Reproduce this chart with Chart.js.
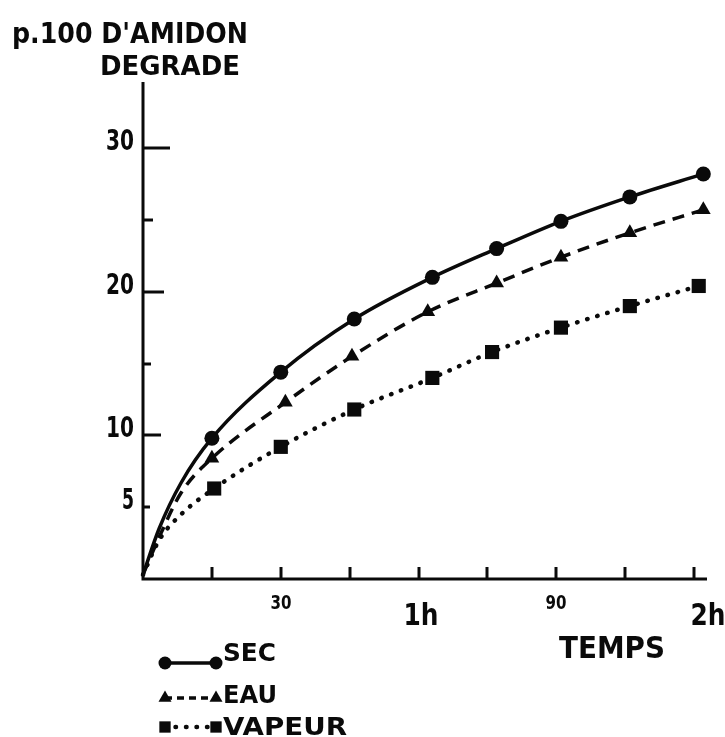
<!DOCTYPE html>
<html>
<head>
<meta charset="utf-8">
<script src="https://cdn.jsdelivr.net/npm/chart.js@4.4.1/dist/chart.umd.min.js"></script>
<style>
  html, body { margin: 0; padding: 0; background: #fff; }
  #wrap { width: 725px; height: 737px; }
</style>
</head>
<body>
<div id="wrap"><canvas id="c" width="725" height="737"></canvas></div>
<script>
// ------- data -------
// les 3 premiers points de chaque série : origine + 2 lectures de la courbe, sans marqueur
const timeSec = [0, 3.5, 8.3, 15, 30, 46, 63, 77, 91, 106, 122];
const valSec  = [0.3, 3.5, 6.7, 9.8, 14.4, 18.1, 21.0, 23.0, 24.9, 26.6, 28.2];
const timeEau = [0, 3.5, 8.3, 15, 31, 45.5, 62, 77, 91, 106, 122];
const valEau  = [0.3, 2.9, 6.0, 8.4, 12.3, 15.5, 18.6, 20.6, 22.4, 24.1, 25.7];
const timeVap = [0, 3.5, 8.3, 15.5, 30, 46, 63, 76, 91, 106, 121];
const valVap  = [0.3, 2.7, 4.5, 6.3, 9.2, 11.8, 14.0, 15.8, 17.5, 19.0, 20.4];
const unmarked = 3;

const seriesNames = ['SEC', 'EAU', 'VAPEUR'];
const yTicks      = [5, 10, 15, 20, 25, 30];
const yTickLabels = ['5', '10', '', '20', '', '30'];
const xTicks      = [15, 30, 45, 60, 75, 90, 105, 120];
const xTickLabels = ['', '30', '', '1h', '', '90', '', '2h'];
const yTitle = ["p.100 D'AMIDON", 'DEGRADE'];
const xTitle = 'TEMPS';

const INK = '#0a0a0a';

// ------- helpers -------
const pts = (xs, ys) => xs.map((x, i) => ({ x, y: ys[i] }));
const radii = (n, r) => Array.from({ length: n }, (_, i) => (i < unmarked ? 0 : r));

// texte gras "condensé" : on écrase horizontalement pour tenir la largeur voulue
function fitText(ctx, txt, x, y, size, width, align) {
  ctx.save();
  ctx.font = `bold ${size}px "DejaVu Sans"`;
  ctx.textAlign = align || 'left';
  ctx.textBaseline = 'alphabetic';
  const w = ctx.measureText(txt).width || 1;
  ctx.translate(x, y);
  ctx.scale(width ? width / w : 1, 1);
  ctx.fillStyle = INK;
  ctx.fillText(txt, 0, 0);
  ctx.restore();
}

function marker(ctx, style, x, y, r) {
  ctx.beginPath();
  if (style === 'circle') {
    ctx.arc(x, y, r, 0, Math.PI * 2);
  } else if (style === 'triangle') {
    ctx.moveTo(x, y - r);
    ctx.lineTo(x + r * 0.866, y + r * 0.5);
    ctx.lineTo(x - r * 0.866, y + r * 0.5);
    ctx.closePath();
  } else {
    ctx.rect(x - r * 0.707, y - r * 0.707, r * 1.414, r * 1.414);
  }
  ctx.fill();
}

// ------- axes, labels, legend (plugin) -------
const yTickLen = { 5: 7, 10: 18, 15: 8, 20: 21, 25: 10, 30: 27 };

const decor = {
  id: 'decor',
  beforeDatasetsDraw(chart) {
    const { ctx, chartArea: a, scales: { x, y } } = chart;
    ctx.save();
    ctx.strokeStyle = INK;
    ctx.fillStyle = INK;
    ctx.lineWidth = 3;

    // axes
    ctx.beginPath();
    ctx.moveTo(a.left, a.top);
    ctx.lineTo(a.left, a.bottom + 1.5);
    ctx.moveTo(a.left - 1.5, a.bottom);
    ctx.lineTo(a.right, a.bottom);
    ctx.stroke();

    // y ticks + labels
    yTicks.forEach((v, i) => {
      const py = Math.round(y.getPixelForValue(v));
      ctx.beginPath();
      ctx.moveTo(a.left, py);
      ctx.lineTo(a.left + (yTickLen[v] || 8), py);
      ctx.stroke();
      const t = yTickLabels[i];
      if (t) fitText(ctx, t, a.left - 9, py + 2, 29, t.length === 1 ? 12 : 28, 'right');
    });

    // x ticks + labels
    xTicks.forEach((v, i) => {
      const px = Math.round(x.getPixelForValue(v));
      ctx.beginPath();
      ctx.moveTo(px, a.bottom);
      ctx.lineTo(px, a.bottom - 12);
      ctx.stroke();
      const t = xTickLabels[i];
      if (!t) return;
      if (t.endsWith('h')) fitText(ctx, t, px + (v === 120 ? 14 : 2), a.bottom + 46, 31, 35, 'center');
      else fitText(ctx, t, px, a.bottom + 30, 19, 21, 'center');
    });

    // titres
    fitText(ctx, yTitle[0], 12, 43, 28, 236);
    fitText(ctx, yTitle[1], 100, 75, 27, 140);
    fitText(ctx, xTitle, 559, 658, 30, 106);
    ctx.restore();
  },
  afterDraw(chart) {
    const { ctx } = chart;
    const rows = [663, 698, 727];
    const textBase = [661, 703, 735];
    const textW = [53, 54, 124];
    const mr = [6.5, 7.5, 8];
    ctx.save();
    chart.data.datasets.forEach((ds, i) => {
      const y0 = rows[i];
      ctx.strokeStyle = INK;
      ctx.fillStyle = INK;
      ctx.lineWidth = ds.borderWidth;
      ctx.lineCap = ds.borderCapStyle || 'butt';
      ctx.setLineDash(i === 1 ? [7, 5] : (ds.borderDash || []));
      ctx.beginPath();
      ctx.moveTo(165, y0);
      ctx.lineTo(216, y0);
      ctx.stroke();
      ctx.setLineDash([]);
      marker(ctx, ds.pointStyle, 165, y0, mr[i]);
      marker(ctx, ds.pointStyle, 216, y0, mr[i]);
      fitText(ctx, seriesNames[i], 223, textBase[i], 25, textW[i]);
    });
    ctx.restore();
  }
};

// ------- chart -------
const common = {
  borderColor: INK,
  backgroundColor: INK,
  pointBorderWidth: 0,
  pointBackgroundColor: INK,
  cubicInterpolationMode: 'monotone',
  clip: false,
  fill: false
};

new Chart(document.getElementById('c'), {
  type: 'line',
  data: {
    datasets: [
      { ...common, label: seriesNames[0], data: pts(timeSec, valSec), borderWidth: 3.5,
        pointStyle: 'circle', pointRadius: radii(valSec.length, 7.5) },
      { ...common, label: seriesNames[1], data: pts(timeEau, valEau), borderWidth: 3.5,
        borderDash: [12, 8], pointStyle: 'triangle', pointRadius: radii(valEau.length, 8.5) },
      { ...common, label: seriesNames[2], data: pts(timeVap, valVap), borderWidth: 4.5,
        borderDash: [0.5, 10], borderCapStyle: 'round', pointStyle: 'rect',
        pointRadius: radii(valVap.length, 10) }
    ]
  },
  options: {
    responsive: false,
    animation: false,
    devicePixelRatio: 1,
    events: [],
    layout: { padding: { left: 143, right: 18, top: 82, bottom: 158 } },
    plugins: { legend: { display: false }, tooltip: { enabled: false } },
    scales: {
      x: { type: 'linear', min: 0, max: 122.8, display: false },
      y: { type: 'linear', min: 0, max: 34.6, display: false }
    }
  },
  plugins: [decor]
});
</script>
</body>
</html>
